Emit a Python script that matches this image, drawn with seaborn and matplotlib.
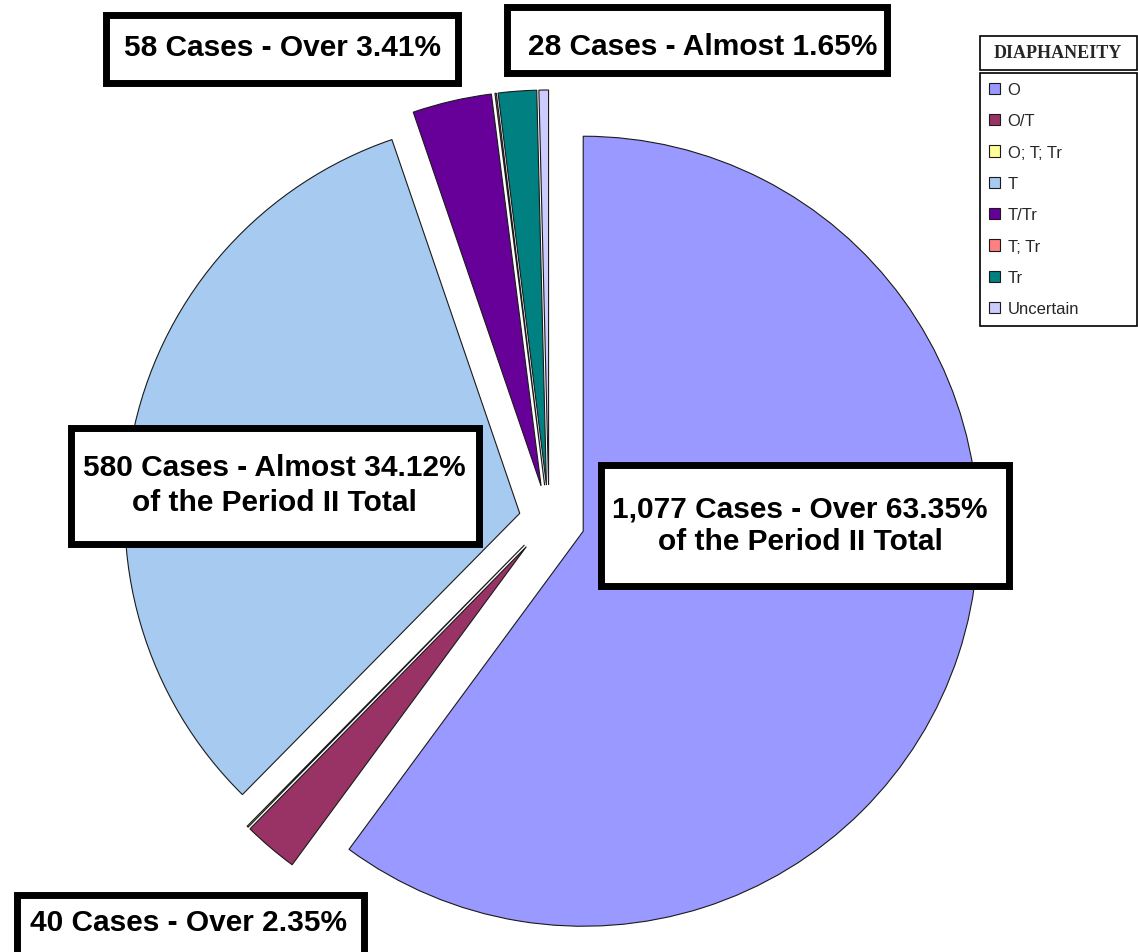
import matplotlib
matplotlib.use("Agg")
import matplotlib.pyplot as plt
from matplotlib.patches import Rectangle
import seaborn as sns

# Period II diaphaneity counts
categories = ["O", "O/T", "O; T; Tr", "T", "T/Tr", "T; Tr", "Tr", "Uncertain"]
cases = [1077, 40, 1, 580, 58, 1, 28, 7]
palette = ["#9999FF", "#993366", "#FFFF99", "#A6CAF0",
           "#660099", "#FF8080", "#008080", "#CCCCFF"]

# callout texts (one list entry per line)
callout_58 = ["58 Cases - Over 3.41%"]
callout_28 = ["28 Cases - Almost 1.65%"]
callout_580 = ["580 Cases - Almost 34.12%", "of the Period II Total"]
callout_1077 = ["1,077 Cases - Over 63.35%", "of the Period II Total"]
callout_40 = ["40 Cases - Over 2.35%"]
legend_title = "DIAPHANEITY"

sns.set_theme(style="white")
plt.rcParams["font.family"] = ["Liberation Sans", "DejaVu Sans"]

W, H = 1138, 953
fig = plt.figure(figsize=(W / 100, H / 100), dpi=100)
ax = fig.add_axes([0, 0, 1, 1])

# slices pulled out from the centre (distances in pixel units)
pull = [36, 35, 35, 30, 35, 35, 35, 35]
wedges, _ = ax.pie(
    cases,
    colors=palette,
    startangle=90,
    counterclock=False,
    explode=pull,
    radius=395,
    center=(549, H - 521),
    wedgeprops=dict(edgecolor="#1a1a1a", linewidth=0.8),
)
ax.set_xlim(0, W)
ax.set_ylim(0, H)
ax.set_aspect("equal")
ax.axis("off")


def callout(box, lines, cx, baselines, size=21.5):
    """White box with a heavy black frame and bold text lines (pixel coords, y down)."""
    x0, y0, x1, y1 = box
    b = 3.5
    ax.add_patch(Rectangle((x0 + b, H - (y1 - b)), (x1 - x0) - 2 * b, (y1 - y0) - 2 * b,
                           facecolor="white", edgecolor="black", linewidth=5,
                           zorder=5, joinstyle="miter"))
    for line, yb in zip(lines, baselines):
        ax.text(cx, H - yb, line, ha="center", va="baseline", fontsize=size,
                fontweight="bold", color="black", zorder=6)


callout((102, 12, 461, 87), callout_58, 282, [56])
callout((503, 4, 890, 77), callout_28, 703, [55])
callout((67, 425, 482, 548), callout_580, 274, [476, 511])
callout((597, 462, 1012, 590), callout_1077, 800, [518, 550])
callout((13, 892, 367, 960), callout_40, 188, [931])

# legend title box
ax.add_patch(Rectangle((980, H - 71), 157, 34, facecolor="white",
                       edgecolor="black", linewidth=1.2, zorder=5))
ax.text(1058, H - 54, legend_title, ha="center", va="center", fontsize=13,
        fontweight="bold", family=["Liberation Serif", "DejaVu Serif"], zorder=6)

leg = ax.legend(
    wedges, categories,
    loc="upper left",
    bbox_to_anchor=(980 / W, 1 - 74 / H, 157 / W, 0.0),
    bbox_transform=fig.transFigure,
    mode="expand",
    borderaxespad=0,
    frameon=True,
    fancybox=False,
    fontsize=12,
    handlelength=0.65,
    handleheight=0.65,
    handletextpad=0.45,
    labelspacing=0.98,
    borderpad=0.55,
)
frame = leg.get_frame()
frame.set_edgecolor("black")
frame.set_linewidth(1.2)
frame.set_facecolor("white")
frame.set_alpha(1)

fig.savefig("out.png", dpi=100, facecolor="white")
